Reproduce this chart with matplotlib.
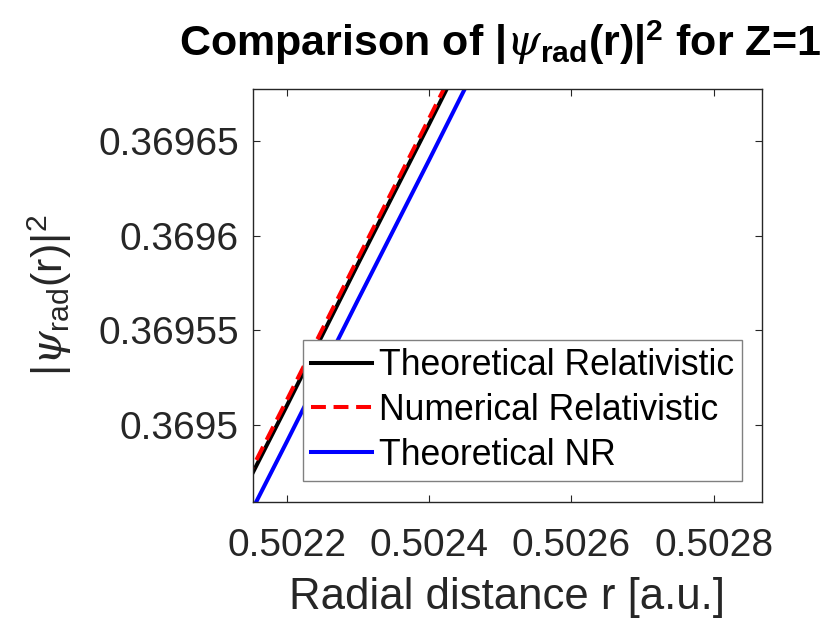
import numpy as np
import matplotlib
matplotlib.use("Agg")
import matplotlib.pyplot as plt

plt.rcParams.update({
    'font.family': ['Liberation Sans', 'DejaVu Sans'],
    'mathtext.fontset': 'custom',
    'mathtext.rm': 'Liberation Sans',
    'mathtext.it': 'DejaVu Serif:italic',
    'mathtext.bf': 'Liberation Sans:bold',
})

# radial distance [a.u.] and |psi_rad(r)|^2 for the three curves
r_vals = [0.5021, 0.5022, 0.5023, 0.5024, 0.5025]
theo_rel = [0.369436, 0.369510, 0.369585, 0.369659, 0.369734]
num_rel = [0.369439, 0.369513, 0.369588, 0.369662, 0.369737]
theo_nr = [0.369417, 0.369491, 0.369566, 0.369640, 0.369715]

x_ticks = [0.5022, 0.5024, 0.5026, 0.5028]
y_ticks = [0.3695, 0.36955, 0.3696, 0.36965]

grey = '#262626'

fig = plt.figure(figsize=(8.37, 6.19), dpi=100)
ax = fig.add_axes([0.3019, 0.189, 0.6081, 0.6667])

lw = 2.9
ax.plot(r_vals, theo_rel, color='black', lw=lw, label='Theoretical Relativistic')
ax.plot(r_vals, num_rel, color='red', lw=lw, ls=(0, (3.7, 1.9)), label='Numerical Relativistic')
ax.plot(r_vals, theo_nr, color='blue', lw=lw, label='Theoretical NR')

ax.set_xlim(0.5021523, 0.5028674)
ax.set_ylim(0.3694593, 0.3696775)
ax.set_xticks(x_ticks)
ax.set_xticklabels(['%g' % v for v in x_ticks])
ax.set_yticks(y_ticks)
ax.set_yticklabels(['%g' % v for v in y_ticks])

ax.tick_params(direction='in', length=5, width=0.8, colors=grey, labelsize=28,
               top=True, right=True)
ax.tick_params(axis='x', pad=19)
ax.tick_params(axis='y', pad=10)
for s in ax.spines.values():
    s.set_color(grey)
    s.set_linewidth(1.0)

ax.set_xlabel('Radial distance r [a.u.]', fontsize=31.5, color=grey, labelpad=9)
ax.set_ylabel(r'$|\psi_{\mathrm{rad}}(\mathrm{r})|^{2}$', fontsize=31, color=grey, labelpad=17)
ax.set_title(r'Comparison of $\mathbf{|}\psi_{\mathbf{rad}}\mathbf{(r)|}^{\mathbf{2}}$ for Z=1',
             fontsize=31, fontweight='bold', pad=24, x=0.486)

leg = ax.legend(loc='lower right', bbox_to_anchor=(0.9607, 0.0516), fontsize=25.6,
                frameon=True, fancybox=False, framealpha=1, edgecolor='#808080',
                handlelength=1.7, handletextpad=0.2, labelspacing=0.28,
                borderpad=0.22, borderaxespad=0)
leg.get_frame().set_linewidth(1.0)

fig.savefig('out.png', dpi=100)
